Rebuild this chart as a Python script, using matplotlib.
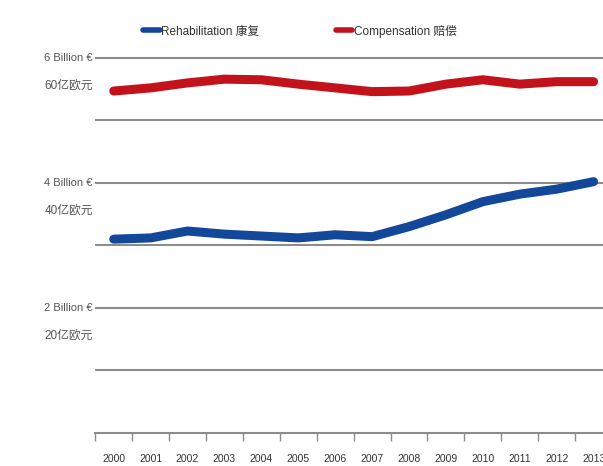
# Rehabilitation vs Compensation spending, 2000-2013
import matplotlib.pyplot as plt

plt.rcParams['font.family'] = ['Liberation Sans', 'Noto Sans CJK SC', 'DejaVu Sans']

years = ['2000', '2001', '2002', '2003', '2004', '2005', '2006',
         '2007', '2008', '2009', '2010', '2011', '2012', '2013']
rehabilitation = [3.10, 3.12, 3.23, 3.18, 3.15, 3.12, 3.17,
                  3.14, 3.30, 3.49, 3.70, 3.82, 3.90, 4.02]
compensation = [5.47, 5.52, 5.60, 5.66, 5.65, 5.58, 5.52,
                5.46, 5.47, 5.58, 5.65, 5.58, 5.62, 5.62]
ytick_vals = [2, 4, 6]
ytick_en = ['2 Billion €', '4 Billion €', '6 Billion €']
ytick_cn = ['20亿欧元', '40亿欧元', '60亿欧元']
legend_labels = ['Rehabilitation 康复', 'Compensation 赔偿']

blue = '#12479a'
red = '#c4121a'
grey = '#555555'

fig = plt.figure(figsize=(6.03, 4.66), dpi=100)
ax = fig.add_axes([0.158, 0.071, 0.857, 0.845])

x = range(len(years))
ax.plot(x, rehabilitation, color=blue, lw=6.5, solid_capstyle='round',
        solid_joinstyle='round', label=legend_labels[0], zorder=3)
ax.plot(x, compensation, color=red, lw=6.5, solid_capstyle='round',
        solid_joinstyle='round', label=legend_labels[1], zorder=3)

# horizontal grid lines
for v in [1, 2, 3, 4, 5, 6]:
    ax.axhline(v, color='#8c8c8c', lw=1.5, zorder=1)

ax.set_xlim(-0.5, len(years) - 0.5)
ax.set_ylim(0, 6.3)

for s in ['top', 'right', 'left']:
    ax.spines[s].set_visible(False)
ax.spines['bottom'].set_color('#8c8c8c')
ax.spines['bottom'].set_linewidth(1.5)

# category ticks sit between the labels
ax.set_xticks([i - 0.5 for i in range(len(years) + 1)])
ax.set_xticklabels([])
ax.set_xticks(list(x), minor=True)
ax.set_xticklabels(years, minor=True, fontsize=7.5, color='#333333')
ax.tick_params(axis='x', which='major', length=6, color='#8c8c8c', width=1)
ax.tick_params(axis='x', which='minor', length=0, pad=15)
ax.set_yticks([])

trans = ax.get_yaxis_transform()
for v, en, cn in zip(ytick_vals, ytick_en, ytick_cn):
    ax.text(-0.005, v, en, transform=trans, ha='right', va='center',
            fontsize=8, color=grey)
    ax.text(-0.005, v - 0.44, cn, transform=trans, ha='right', va='center',
            fontsize=8.5, color=grey)

leg = fig.legend(loc='upper left', bbox_to_anchor=(0.22, 0.97), ncol=2,
                 frameon=False, fontsize=8.5, handlelength=1.4,
                 handletextpad=0.1, columnspacing=6.5)
for h in leg.get_lines():
    h.set_linewidth(4)
for t in leg.get_texts():
    t.set_color('#333333')

fig.savefig('out.png', dpi=100)
